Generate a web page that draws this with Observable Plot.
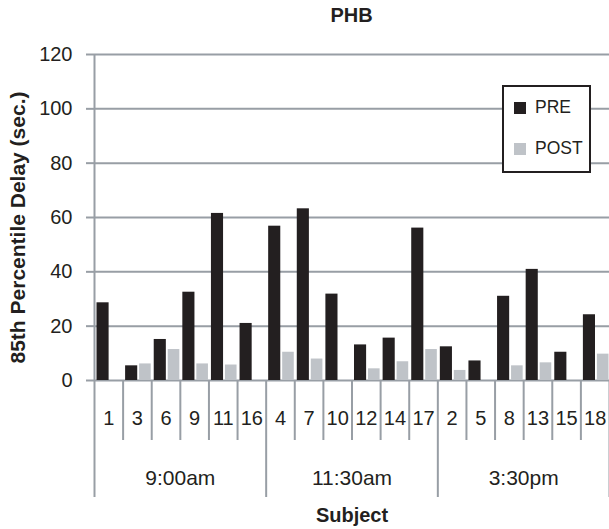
<!DOCTYPE html>
<html>
<head>
<meta charset="utf-8">
<script src="https://cdn.jsdelivr.net/npm/d3@7"></script>
<script src="https://cdn.jsdelivr.net/npm/@observablehq/plot@0.6"></script>
<style>
  html, body { margin: 0; padding: 0; background: #fff; }
  #wrap { position: relative; width: 609px; height: 529px; font-family: "Liberation Sans", Arial, Helvetica, sans-serif; color: #231f20; }
  #title { height: 30px; line-height: 30px; padding-left: 94px; width: 515px; text-align: center; font-weight: bold; font-size: 20px; }
  #legend { position: absolute; left: 502px; top: 85px; width: 85px; height: 84px; border: 2px solid #231f20; background: #fff; }
  .sw { position: absolute; left: 10px; width: 12px; height: 12px; }
  .lt { position: absolute; left: 31px; font-size: 17.5px; line-height: 20px; }
</style>
</head>
<body>
<div id="wrap">
  <div id="title">PHB</div>
  <div id="chart"></div>
  <div id="legend"></div>
</div>
<script>
const subjects = ["1","3","6","9","11","16","4","7","10","12","14","17","2","5","8","13","15","18"];
const groups = ["9:00am","11:30am","3:30pm"];
const groupSizes = [6, 6, 6];
const preValues  = [28.6, 5.4, 15.1, 32.5, 61.5, 21.0, 56.8, 63.2, 31.8, 13.1, 15.6, 56.1, 12.4, 7.2, 31.0, 40.9, 10.4, 24.2];
const postValues = [null, 6.1, 11.4, 6.1, 5.7, null, 10.4, 7.9, null, 4.3, 6.9, 11.4, 3.7, null, 5.4, 6.5, null, 9.7];
const yTicks = [0, 20, 40, 60, 80, 100, 120];
const seriesNames = ["PRE", "POST"];
const seriesColors = ["#231f20", "#bfc3c8"];

const gray = "#989ea5";

const rows = subjects.map((s, i) => ({subject: s, i, pre: preValues[i], post: postValues[i]}));
const groupRows = [];
let start = 0;
groups.forEach((g, k) => { groupRows.push({group: g, x1: start, x2: start + groupSizes[k]}); start += groupSizes[k]; });
const groupEdges = [0, ...groupRows.map(g => g.x2)];
const subjectEdges = d3.range(subjects.length + 1).filter(e => !groupEdges.includes(e));

const chart = Plot.plot({
  width: 609,
  height: 499,
  marginLeft: 94,
  marginRight: 0,
  marginTop: 24,
  marginBottom: 149,
  style: { fontFamily: "Liberation Sans, Arial, Helvetica, sans-serif", fontSize: "20px", color: "#231f20", background: "transparent", overflow: "visible" },
  x: { type: "linear", domain: [0, subjects.length], axis: null },
  y: { domain: [0, 120], ticks: yTicks, tickSize: 0, tickPadding: 22, label: null, tickFormat: d => String(d) },
  marks: [
    Plot.ruleY(yTicks, { y: d => d, stroke: gray, strokeWidth: 2 }),
    Plot.ruleY(yTicks, { y: d => d, stroke: gray, strokeWidth: 2, insetLeft: -8, insetRight: 515 }),
    Plot.rectY(rows, { x1: d => d.i, x2: d => d.i + 1, y1: 0, y2: "pre", fill: seriesColors[0], insetLeft: 2.5, insetRight: 14 }),
    Plot.rectY(rows.filter(d => d.post != null), { x1: d => d.i, x2: d => d.i + 1, y1: 0, y2: "post", fill: seriesColors[1], insetLeft: 16.5, insetRight: 0.5 }),
    Plot.ruleX([0], { x: d => d, stroke: gray, strokeWidth: 2 }),
    Plot.ruleX(subjectEdges, { x: d => d, stroke: gray, strokeWidth: 2, insetTop: 326, insetBottom: -60 }),
    Plot.ruleX(groupEdges, { x: d => d, stroke: gray, strokeWidth: 2, insetTop: 326, insetBottom: -117 }),
    Plot.text(rows, { x: d => d.i + 0.5, text: "subject", frameAnchor: "bottom", lineAnchor: "middle", dy: 38, fontSize: 20, fill: "#231f20" }),
    Plot.text(groupRows, { x: d => (d.x1 + d.x2) / 2, text: "group", frameAnchor: "bottom", lineAnchor: "middle", dy: 98, fontSize: 21, fill: "#231f20" }),
    Plot.text(["Subject"], { frameAnchor: "bottom", lineAnchor: "middle", dy: 135, fontSize: 20, fontWeight: "bold", fill: "#231f20" }),
    Plot.text(["85th Percentile Delay (sec.)"], { frameAnchor: "left", textAnchor: "middle", lineAnchor: "middle", dx: -76, dy: 10, rotate: -90, fontSize: 21, fontWeight: "bold", fill: "#231f20" })
  ]
});
document.getElementById("chart").appendChild(chart);

const legend = document.getElementById("legend");
const legendTops = [15, 56];
seriesNames.forEach((name, k) => {
  const sw = document.createElement("div");
  sw.className = "sw";
  sw.style.top = legendTops[k] + "px";
  sw.style.background = seriesColors[k];
  legend.appendChild(sw);
  const t = document.createElement("div");
  t.className = "lt";
  t.style.top = (legendTops[k] - 5) + "px";
  t.textContent = name;
  legend.appendChild(t);
});
</script>
</body>
</html>
